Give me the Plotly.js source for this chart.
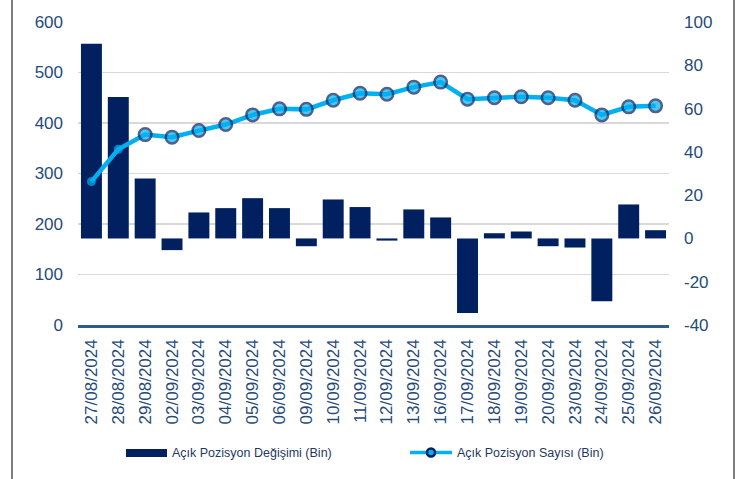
<!DOCTYPE html>
<html>
<head>
<meta charset="utf-8">
<script src="https://cdn.plot.ly/plotly-3.0.1.min.js"></script>
<style>html,body{margin:0;padding:0;background:#fff;}#chart{width:746px;height:479px;}</style>
</head>
<body>
<div id="chart"></div>
<script>
const dates = ["27/08/2024","28/08/2024","29/08/2024","02/09/2024","03/09/2024","04/09/2024","05/09/2024","06/09/2024","09/09/2024","10/09/2024","11/09/2024","12/09/2024","13/09/2024","16/09/2024","17/09/2024","18/09/2024","19/09/2024","20/09/2024","23/09/2024","24/09/2024","25/09/2024","26/09/2024"];
const changeValues = [90, 65.3, 27.7, -5.4, 12, 14, 18.6, 14, -3.6, 18, 14.5, -1, 13.4, 9.7, -34.4, 2.4, 3.2, -3.6, -4.2, -29, 15.7, 3.8];
const positionValues = [284, 348, 377, 372, 385, 397, 416, 428, 427, 445, 459, 457, 471, 481, 447, 450, 452, 450, 445, 416, 432, 434];
const seriesNames = ["Açık Pozisyon Değişimi (Bin)", "Açık Pozisyon Sayısı (Bin)"];
const leftTicks = [0, 100, 200, 300, 400, 500, 600];
const rightTicks = [-40, -20, 0, 20, 40, 60, 80, 100];

const NAVY = '#002060';
const LIGHT = '#00B0F0';
const TXT = '#264B7A';
const W = 746, H = 479, ML = 78, MR = 77, MT = 22, MB = 154;
const PW = W - ML - MR, PH = H - MT - MB;
const px = p => (p - ML) / PW;
const py = p => (H - MB - p) / PH;

const markerSizes = positionValues.map((v, i) => i < 2 ? 9 : 12.5);
const markerLines = positionValues.map((v, i) => i < 2 ? 0 : 2.5);

const bars = {
  type: 'bar', x: dates, y: changeValues, name: seriesNames[0],
  marker: {color: NAVY, line: {width: 0}}, yaxis: 'y', showlegend: false, hoverinfo: 'x+y'
};
const line = {
  type: 'scatter', mode: 'lines+markers', x: dates, y: positionValues, name: seriesNames[1],
  line: {color: LIGHT, width: 4.5},
  marker: {color: LIGHT, size: markerSizes, line: {color: NAVY, width: markerLines}},
  yaxis: 'y2', showlegend: false
};

const layout = {
  width: W, height: H,
  margin: {l: ML, r: MR, t: MT, b: MB},
  paper_bgcolor: '#fff', plot_bgcolor: '#fff',
  font: {family: 'Liberation Sans, Arial, sans-serif', color: TXT},
  bargap: 0.22,
  showlegend: false,
  xaxis: {
    type: 'category', range: [-0.5, dates.length - 0.5], tickangle: -90, tickfont: {size: 17, color: TXT},
    showline: true, linecolor: '#2E5C8A', linewidth: 2.5, ticks: '', showgrid: false,
    ticklabelstandoff: 5, fixedrange: true
  },
  yaxis: {
    side: 'right', range: [-40, 100], tickvals: rightTicks, ticktext: rightTicks.map(String),
    showgrid: false, zeroline: false,
    tickfont: {size: 17, color: TXT}, ticks: '', ticklabelstandoff: 14, fixedrange: true
  },
  yaxis2: {
    overlaying: 'y', side: 'left', range: [0, 600], tickvals: leftTicks, ticktext: leftTicks.map(String),
    showgrid: true, gridcolor: '#D9D9D9', gridwidth: 1.2, zeroline: false,
    tickfont: {size: 17, color: TXT}, ticks: '', ticklabelstandoff: 14, fixedrange: true
  },
  shapes: [
    {type: 'line', xref: 'paper', yref: 'paper', x0: px(12), x1: px(12), y0: py(-5), y1: py(484), line: {color: '#7F7F7F', width: 2}},
    {type: 'line', xref: 'paper', yref: 'paper', x0: px(734), x1: px(734), y0: py(-5), y1: py(484), line: {color: '#7F7F7F', width: 2}},
    {type: 'rect', xref: 'paper', yref: 'paper', x0: px(126), x1: px(167), y0: py(449), y1: py(457), fillcolor: NAVY, line: {width: 0}},
    {type: 'line', xref: 'paper', yref: 'paper', x0: px(410), x1: px(452), y0: py(452.5), y1: py(452.5), line: {color: LIGHT, width: 3.5}},
    {type: 'circle', xref: 'paper', yref: 'paper', xsizemode: 'pixel', ysizemode: 'pixel',
      xanchor: px(431), yanchor: py(452.5), x0: -4, x1: 4, y0: -4, y1: 4,
      fillcolor: LIGHT, line: {color: NAVY, width: 2.5}}
  ],
  annotations: [
    {xref: 'paper', yref: 'paper', x: px(170), y: py(452.5), xanchor: 'left', yanchor: 'middle', showarrow: false,
      text: seriesNames[0], font: {size: 12.5, color: '#1F3864'}},
    {xref: 'paper', yref: 'paper', x: px(455), y: py(452.5), xanchor: 'left', yanchor: 'middle', showarrow: false,
      text: seriesNames[1], font: {size: 12.5, color: '#1F3864'}}
  ]
};

Plotly.newPlot('chart', [bars, line], layout, {displayModeBar: false, staticPlot: true});
</script>
</body>
</html>
